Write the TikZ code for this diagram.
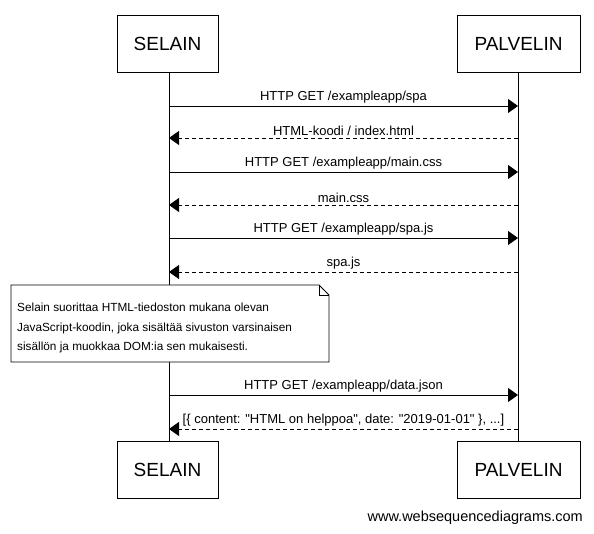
\documentclass[tikz,border=0pt]{standalone}
\usepackage{fontspec}
\setmainfont{Liberation Sans}[Ligatures=TeXOff]
\usetikzlibrary{arrows.meta}
\begin{document}
\begin{tikzpicture}[x=1pt,y=-1pt,
  actor/.style={draw,line width=0.8pt,minimum width=101pt,minimum height=57pt,font=\fontsize{19}{21}\selectfont,inner sep=0pt},
  actorR/.style={actor,minimum width=123pt},
  msg/.style={line width=0.8pt,-{Triangle[length=10pt,width=14pt]}},
  reply/.style={msg,dash pattern=on 4pt off 3pt},
  lbl/.style={font=\fontsize{13}{15}\selectfont,inner sep=1pt},
  life/.style={line width=0.8pt}]
\useasboundingbox (0,0) rectangle (594,534);
\fill[white] (0,0) rectangle (594,534);
% actors
\node[actor] (s1) at (167.5,43.5) {SELAIN};
\node[actorR] (p1) at (518.5,43.5) {PALVELIN};
\node[actor] (s2) at (167.5,470) {SELAIN};
\node[actorR] (p2) at (518.5,470) {PALVELIN};
% lifelines
\coordinate (st) at (169,72);
\coordinate (sb) at (169,442);
\coordinate (pt) at (518,72);
\coordinate (pb) at (518,442);
\draw[life] (st) -- (sb);
\draw[life] (pt) -- (pb);
% message endpoints
\foreach \i/\y in {1/106,2/138,3/172,4/205,5/238,6/272,7/395,8/429}{
  \coordinate (a\i) at (169,\y);
  \coordinate (b\i) at (518,\y);
}
\draw[msg] (a1) -- node[lbl,above=1pt] (l1) {HTTP GET /exampleapp/spa} (b1);
\draw[reply] (b2) -- node[lbl,above=1pt] (l2) {HTML-koodi / index.html} (a2);
\draw[msg] (a3) -- node[lbl,above=1pt] (l3) {HTTP GET /exampleapp/main.css} (b3);
\draw[reply] (b4) -- node[lbl,above=1pt] (l4) {main.css} (a4);
\draw[msg] (a5) -- node[lbl,above=1pt] (l5) {HTTP GET /exampleapp/spa.js} (b5);
\draw[reply] (b6) -- node[lbl,above=1pt] (l6) {spa.js} (a6);
\draw[msg] (a7) -- node[lbl,above=1pt] (l7) {HTTP GET /exampleapp/data.json} (b7);
\draw[reply] (b8) -- node[lbl,above=1pt] (l8) {[\{ content: "HTML on helppoa", date: "2019-01-01" \}, ...]} (a8);
% note
\coordinate (n1) at (11,285);
\coordinate (n2) at (319,285);
\coordinate (n3) at (329,295);
\coordinate (n4) at (329,362);
\coordinate (n5) at (11,362);
\filldraw[fill=white,line width=0.8pt] (n1) -- (n2) -- (n3) -- (n4) -- (n5) -- cycle;
\draw[line width=0.8pt] (n2) -- (319,295) -- (n3);
\node[lbl,anchor=north west,align=left,font=\fontsize{11.8}{19.5}\selectfont] (note) at (16,302)
 {Selain suorittaa HTML-tiedoston mukana olevan\\JavaScript-koodin, joka sisältää sivuston varsinaisen\\sisällön ja muokkaa DOM:ia sen mukaisesti.};
% footer
\node[lbl,anchor=east,font=\fontsize{14.5}{16}\selectfont] (wsd) at (584,518) {www.websequencediagrams.com};
\end{tikzpicture}
\end{document}
